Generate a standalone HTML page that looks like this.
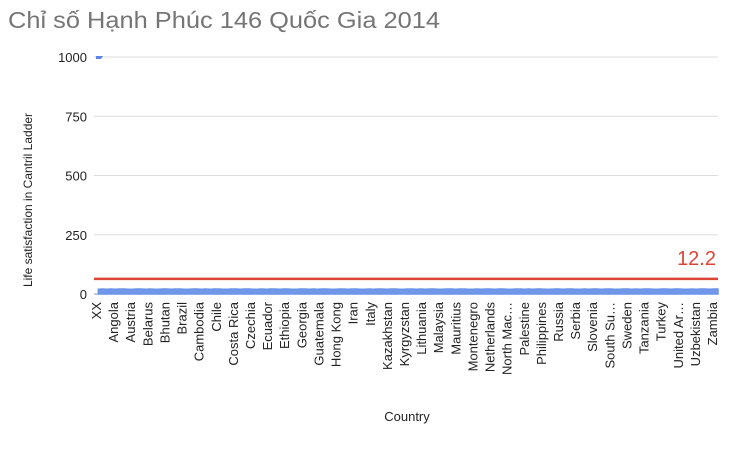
<!DOCTYPE html>
<html><head><meta charset="utf-8"><style>
body{margin:0;background:#fff;font-family:"Liberation Sans","Noto Sans CJK SC",sans-serif}
svg text{font-family:"Liberation Sans","Noto Sans CJK SC",sans-serif}
</style></head><body>
<svg width="739" height="449" id="c">
<text x="8" y="28" font-size="23" textLength="432" lengthAdjust="spacingAndGlyphs" fill="#757575">Chỉ số Hạnh Phúc 146 Quốc Gia 2014</text>
<text transform="translate(32,200) rotate(-90)" text-anchor="middle" font-size="12" fill="#222">Life satisfaction in Cantril Ladder</text>
<text x="407" y="421" text-anchor="middle" font-size="13" fill="#222">Country</text>
</svg>
<script>
const yTicks=[0,250,500,750,1000];
const xLabels=["XX","Angola","Austria","Belarus","Bhutan","Brazil","Cambodia","Chile","Costa Rica","Czechia","Ecuador","Ethiopia","Georgia","Guatemala","Hong Kong","Iran","Italy","Kazakhstan","Kyrgyzstan","Lithuania","Malaysia","Mauritius","Montenegro","Netherlands","North Mac…","Palestine","Philippines","Russia","Serbia","Slovenia","South Su…","Sweden","Tanzania","Turkey","United Ar…","Uzbekistan","Zambia"];
const firstValue=1000;
const values=[20,21,20,21,20,21,21,20,20,21,21,20,21,20,20,21,21,20,21,21,20,20,21,21,20,21,20,21,21,20,20,21,21,20,21,21,20,20,21,20,21,21,20,21,21,20,20,21,21,20,21,20,21,21,20,20,21,21,20,21,21,20,20,21,20,21,21,20,21,21,20,20,21,21,20,21,20,21,21,20,20,21,21,20,21,21,20,20,21,20,21,21,20,21,21,20,20,21,21,20,21,20,21,21,20,20,21,21,20,21,21,20,20,21,20,21,21,20,21,21,20,20,21,21,20,21,20,21,21,20,20,21,21,20,21,21,20,20,21,20,21,21,20,21,21];
const refValue=64;
const refLabel="12.2";
const svg=document.getElementById('c');const NS="http://www.w3.org/2000/svg";
const X0=94,X1=718,Y0=294,Y1=57;
const n=values.length+1;
function y(v){return Y0-(v/1000)*(Y0-Y1);}
function x(i){return X0+(X1-X0)*i/(n-1);}
function mk(t,a){const e=document.createElementNS(NS,t);for(const k in a)e.setAttribute(k,a[k]);svg.appendChild(e);return e;}
yTicks.forEach(t=>{
 const l=mk('line',{x1:X0,x2:X1,y1:y(t),y2:y(t),stroke:t===0?'#999':'#ddd','stroke-width':1});
 
 
 const tx=mk('text',{x:87,y:y(t)+5,'text-anchor':'end','font-size':13,fill:'#222'});tx.textContent=t;
 
 
});
let d='M'+x(1)+','+Y0;
values.forEach((v,i)=>{d+=' L'+x(i+1)+','+y(v);});
d+=' L'+x(n-1)+','+Y0+' Z';
const area=mk('path',{d:d,fill:'#7097e8',stroke:'#6a93e8','stroke-width':1.5});


const pt=mk('path',{d:`M${x(0)+2},${y(firstValue)-1} h7 l-2,3 h-5 z`,fill:'#5b86e5'});


const rl=mk('line',{x1:X0,x2:X1,y1:y(refValue),y2:y(refValue),stroke:'#db4437','stroke-width':2.5});


const rt=mk('text',{x:716,y:y(refValue)-14,'text-anchor':'end','font-size':20,fill:'#db4437'});rt.textContent=refLabel;


const L0=101,L1=717;
xLabels.forEach((s,i)=>{
 const px=L0+(L1-L0)*i/(xLabels.length-1);
 const t=mk('text',{transform:`translate(${px},302) rotate(-90)`,'text-anchor':'end','font-size':13,fill:'#222'});t.textContent=s;
 
 
});
</script>
</body></html>
